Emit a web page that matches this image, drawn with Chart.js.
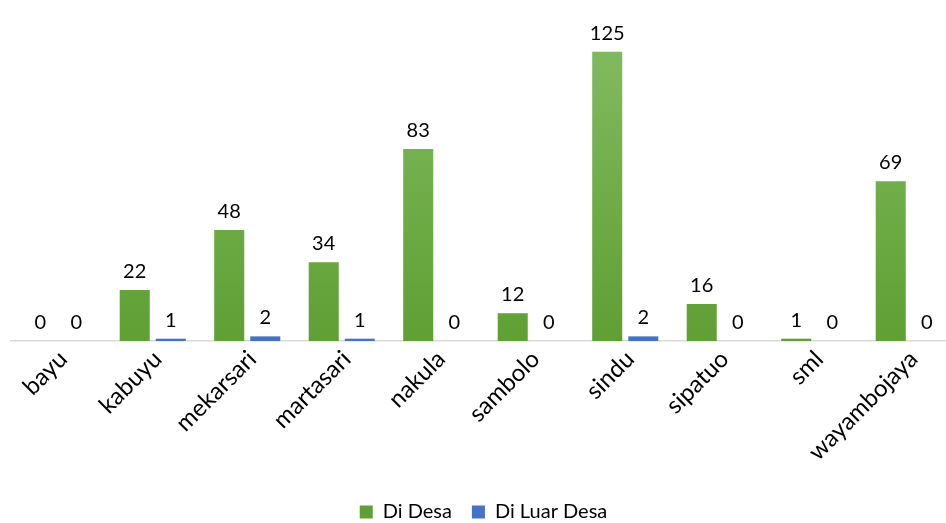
<!DOCTYPE html>
<html>
<head>
<meta charset="utf-8">
<script src="https://cdn.jsdelivr.net/npm/chart.js@4/dist/chart.umd.min.js"></script>
<style>
  body { margin: 0; background: #fff; overflow: hidden; }
  #wrap { width: 956px; height: 523px; }
</style>
</head>
<body>
<div id="wrap"><canvas id="barChart"></canvas></div>
<script>
const villages = ['bayu', 'kabuyu', 'mekarsari', 'martasari', 'nakula', 'sambolo', 'sindu', 'sipatuo', 'sml', 'wayambojaya'];
const diDesa = [0, 22, 48, 34, 83, 12, 125, 16, 1, 69];
const diLuarDesa = [0, 1, 2, 1, 0, 0, 2, 0, 0, 0];

const FONT = 'Lato, "Open Sans", sans-serif';

function grad(ctx, top, bottom) {
  const area = ctx.chart.chartArea;
  if (!area) return bottom;
  const g = ctx.chart.ctx.createLinearGradient(0, area.top, 0, area.bottom);
  g.addColorStop(0, top);
  g.addColorStop(1, bottom);
  return g;
}

// value labels above every bar
const valueLabels = {
  id: 'valueLabels',
  afterDatasetsDraw(chart) {
    const c = chart.ctx;
    c.save();
    c.font = '20px ' + FONT;
    c.fillStyle = '#000';
    c.textAlign = 'center';
    c.textBaseline = 'alphabetic';
    chart.data.datasets.forEach((ds, i) => {
      chart.getDatasetMeta(i).data.forEach((bar, j) => {
        c.fillText(ds.data[j], bar.x, bar.y - 12);
      });
    });
    c.restore();
  }
};

new Chart(document.getElementById('barChart'), {
  type: 'bar',
  data: {
    labels: villages,
    datasets: [
      {
        label: 'Di Desa',
        data: diDesa,
        backgroundColor: ctx => grad(ctx, '#84bd63', '#5f9f33')
      },
      {
        label: 'Di Luar Desa',
        data: diLuarDesa,
        backgroundColor: ctx => grad(ctx, '#5a86d2', '#4472c4')
      }
    ]
  },
  options: {
    responsive: true,
    maintainAspectRatio: false,
    animation: false,
    categoryPercentage: 0.763,
    barPercentage: 0.833,
    layout: { padding: { top: 17, left: 11, right: 0, bottom: -9 } },
    plugins: {
      tooltip: { enabled: false },
      legend: {
        position: 'bottom',
        labels: {
          boxWidth: 13,
          boxHeight: 13,
          padding: 20,
          color: '#000',
          font: { family: FONT, size: 20 }
        }
      }
    },
    scales: {
      x: {
        grid: { display: false, drawTicks: false },
        border: { color: '#d9d9d9', width: 1.5 },
        ticks: {
          color: '#000',
          maxRotation: 45,
          minRotation: 45,
          padding: 4,
          labelOffset: 5,
          font: { family: FONT, size: 24 }
        },
        afterFit(scale) {
          scale.height = 141;
          scale.paddingLeft = 0;
          scale.paddingRight = 0;
        }
      },
      y: {
        display: false,
        min: 0,
        max: 140
      }
    }
  },
  plugins: [valueLabels]
});
</script>
</body>
</html>
